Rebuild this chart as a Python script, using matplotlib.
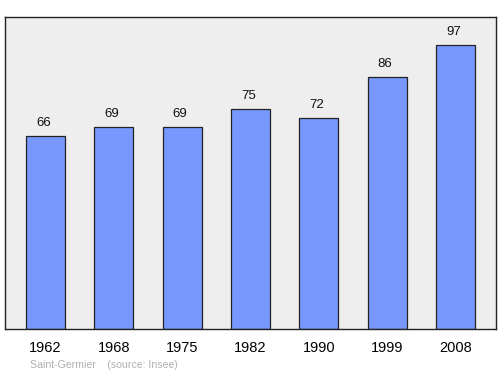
import matplotlib
matplotlib.use("Agg")
import matplotlib.pyplot as plt

years = ["1962", "1968", "1975", "1982", "1990", "1999", "2008"]
population = [66, 69, 69, 75, 72, 86, 97]
place = "Saint-Germier"
source = "(source: Insee)"

plt.rcParams['font.family'] = ['Liberation Sans', 'DejaVu Sans']

fig = plt.figure(figsize=(5, 3.74), dpi=100)
ax = fig.add_axes([5/500, 1 - 329/374, 491/500, 312/374])
ax.set_facecolor('#eeeeee')
x = list(range(len(years)))
ax.bar(x, population, width=0.57, color='#7799ff', edgecolor='#222222', linewidth=0.9, zorder=2)
for xi, v in zip(x, population):
    ax.annotate(str(v), (xi, v), xytext=(-1.5, 5), textcoords='offset points',
                ha='center', va='bottom', fontsize=9.5, color='#111111')
ax.set_xlim(-0.593, 6.593)
ax.set_ylim(0, 106.5)
ax.set_yticks([])
ax.set_xticks(x)
ax.set_xticklabels(years, fontsize=10.5)
ax.tick_params(axis='x', length=0, pad=9)
for s in ax.spines.values():
    s.set_color('#222222')
    s.set_linewidth(1.0)
fig.text(30/500, 1 - 365/374, place + "    " + source, fontsize=7.6, color='#b0b0b0', va='center', ha='left')
fig.savefig('out.png', dpi=100)
